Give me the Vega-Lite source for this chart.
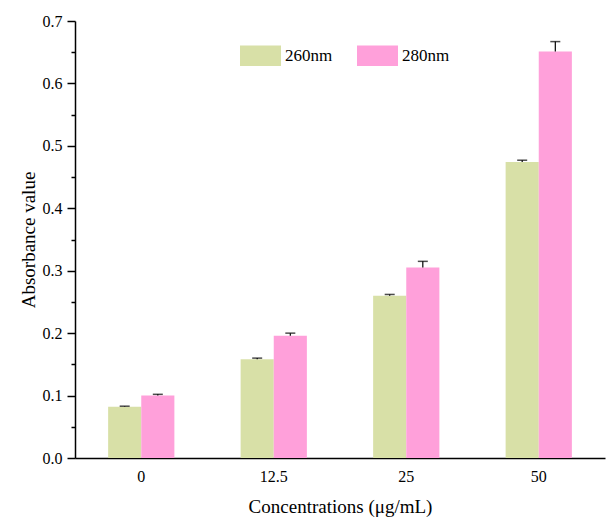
{
  "$schema": "https://vega.github.io/schema/vega-lite/v6.json",
  "width": 530,
  "height": 437,
  "autosize": {"type": "none"},
  "padding": {"left": 75, "top": 21, "right": 4, "bottom": 62},
  "background": "white",
  "config": {
    "view": {"stroke": null},
    "font": "Liberation Serif",
    "axis": {"labelFont": "Liberation Serif", "titleFont": "Liberation Serif", "labelColor": "black", "titleColor": "black", "titleFontWeight": "normal", "grid": false, "domainColor": "black", "tickColor": "black", "domainWidth": 1.5, "tickWidth": 1.5}
  },
  "data": {
    "values": [
      {"conc": "0", "wave": "260nm", "value": 0.082, "err": 0.001},
      {"conc": "0", "wave": "280nm", "value": 0.100, "err": 0.002},
      {"conc": "12.5", "wave": "260nm", "value": 0.158, "err": 0.002},
      {"conc": "12.5", "wave": "280nm", "value": 0.196, "err": 0.004},
      {"conc": "25", "wave": "260nm", "value": 0.260, "err": 0.002},
      {"conc": "25", "wave": "280nm", "value": 0.305, "err": 0.010},
      {"conc": "50", "wave": "260nm", "value": 0.474, "err": 0.003},
      {"conc": "50", "wave": "280nm", "value": 0.651, "err": 0.016}
    ]
  },
  "transform": [{"calculate": "datum.value + datum.err", "as": "hi"}],
  "encoding": {
    "x": {
      "field": "conc", "type": "ordinal", "sort": ["0", "12.5", "25", "50"],
      "scale": {"paddingInner": 0.5, "paddingOuter": 0.25},
      "axis": {"title": "Concentrations (μg/mL)", "labelAngle": 0, "ticks": false, "labelFontSize": 16, "labelPadding": 10, "titleFontSize": 19, "titlePadding": 13}
    },
    "xOffset": {"field": "wave", "type": "nominal", "sort": ["260nm", "280nm"]},
    "y": {
      "field": "value", "type": "quantitative",
      "scale": {"domain": [0, 0.7], "nice": false},
      "axis": {
        "title": "Absorbance value",
        "domain": true, "ticks": true,
        "values": [0, 0.05, 0.1, 0.15, 0.2, 0.25, 0.3, 0.35, 0.4, 0.45, 0.5, 0.55, 0.6, 0.65, 0.7],
        "labelExpr": "abs(datum.value*10 - round(datum.value*10)) < 0.01 ? format(datum.value, '.1f') : ''",
        "tickSize": {"condition": {"test": "abs(datum.value*10 - round(datum.value*10)) > 0.01", "value": 4}, "value": 8},
        "labelFontSize": 16, "labelPadding": 5, "titleFontSize": 19, "titlePadding": 4
      }
    }
  },
  "layer": [
    {
      "mark": {"type": "bar"},
      "encoding": {
        "color": {
          "field": "wave", "type": "nominal",
          "scale": {"domain": ["260nm", "280nm"], "range": ["#d8e0a7", "#ffa0da"]},
          "legend": {
            "title": null, "orient": "none", "legendX": 165, "legendY": 14, "direction": "horizontal",
            "symbolType": "M-1,-0.5H1V0.5H-1Z", "symbolSize": 1681, "symbolStrokeWidth": 0, "symbolOpacity": 1,
            "labelFont": "Liberation Serif", "labelFontSize": 17, "labelColor": "black", "labelOffset": 4,
            "columnPadding": 24
          }
        }
      }
    },
    {
      "mark": {"type": "rule", "color": "black", "strokeWidth": 1.2},
      "encoding": {
        "y2": {"field": "hi"}
      }
    },
    {
      "mark": {"type": "tick", "color": "black", "thickness": 1.5, "size": 10},
      "encoding": {
        "y": {"field": "hi", "type": "quantitative"}
      }
    }
  ]
}
